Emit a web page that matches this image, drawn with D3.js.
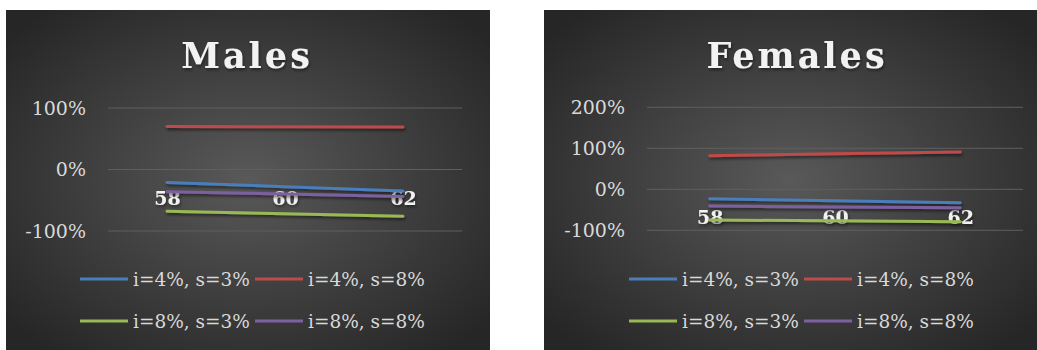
<!DOCTYPE html>
<html>
<head>
<meta charset="utf-8">
<script src="https://cdn.jsdelivr.net/npm/d3@7"></script>
<style>
  body { margin: 0; background: #ffffff; }
  svg { display: block; }
</style>
</head>
<body>
<div id="chart"></div>
<script>
// categories (age) and legend names
var ages = ["58", "60", "62"]
var seriesNames = ["i=4%, s=3%", "i=4%, s=8%", "i=8%, s=3%", "i=8%, s=8%"]
var seriesColors = ["#4a7ebb", "#be4b48", "#98b954", "#7d60a0"]

// Males, values in %
var maleI4S3 = [-21, -28, -35]
var maleI4S8 = [70, 69.5, 69]
var maleI8S3 = [-68, -72, -76]
var maleI8S8 = [-36, -40, -44]
var maleTicks = [-100, 0, 100]

// Females, values in %
var femaleI4S3 = [-23, -28, -33]
var femaleI4S8 = [82, 87, 91]
var femaleI8S3 = [-75, -77, -79]
var femaleI8S8 = [-41, -43, -45]
var femaleTicks = [-100, 0, 100, 200]

var W = 1037, H = 350
var svg = d3.select("#chart").append("svg")
  .attr("width", W).attr("height", H)

var defs = svg.append("defs")
var grad = defs.append("radialGradient")
  .attr("id", "bg").attr("cx", "50%").attr("cy", "50%").attr("r", "65%")
grad.append("stop").attr("offset", "0%").attr("stop-color", "#595959")
grad.append("stop").attr("offset", "100%").attr("stop-color", "#262626")

// shadows in user space (big region) so flat lines and shifted ticks are not clipped
function addShadow(id, opacity){
  var f = defs.append("filter").attr("id", id)
    .attr("filterUnits", "userSpaceOnUse")
    .attr("x", -W).attr("y", -H).attr("width", 3 * W).attr("height", 3 * H)
  f.append("feDropShadow").attr("dx", 1).attr("dy", 2).attr("stdDeviation", 1.5)
    .attr("flood-color", "#000").attr("flood-opacity", opacity)
}
addShadow("shadow", 0.55)
addShadow("tshadow", 0.45)

function drawPanel(opts){
  var g = svg.append("g").attr("transform", "translate(" + opts.left + "," + opts.top + ")")

  g.append("rect")
    .attr("width", opts.width).attr("height", opts.height)
    .attr("fill", "url(#bg)")

  // title
  g.append("text")
    .attr("x", opts.titleX).attr("y", 58)
    .attr("text-anchor", "middle")
    .attr("font-family", "DejaVu Serif")
    .attr("font-weight", "bold")
    .attr("font-size", 35)
    .attr("letter-spacing", 3)
    .attr("fill", "#f2f2f2")
    .attr("filter", "url(#tshadow)")
    .text(opts.title)

  var x = d3.scalePoint()
    .domain(ages)
    .range([opts.plotL, opts.plotR])
    .padding(0.5)
  var y = d3.scaleLinear()
    .domain(d3.extent(opts.ticks))
    .range([opts.plotB, opts.plotT])

  // gridlines
  g.append("g")
    .selectAll("line")
    .data(opts.ticks)
    .join("line")
      .attr("x1", opts.plotL).attr("x2", opts.plotR)
      .attr("y1", d => y(d)).attr("y2", d => y(d))
      .attr("stroke", "#5f5f5f").attr("stroke-width", 1)

  // y axis labels
  var ya = g.append("g")
    .attr("transform", "translate(" + opts.plotL + ",0)")
    .call(d3.axisLeft(y).tickValues(opts.ticks).tickSize(0).tickPadding(22).tickFormat(d => d + "%"))
  ya.select(".domain").remove()
  ya.selectAll("text")
    .attr("font-family", "DejaVu Serif").attr("font-size", 19)
    .attr("fill", "#d9d9d9")

  var line = d3.line()
    .x((d, i) => x(ages[i]))
    .y(d => y(d))
  var lines = [opts.s1, opts.s2, opts.s3, opts.s4]

  // category axis crosses at 0, labels drawn below
  var xa = g.append("g")
    .attr("transform", "translate(0," + y(0) + ")")
    .call(d3.axisBottom(x).tickSize(0))
  xa.select(".domain").remove()
  xa.selectAll("text")
    .attr("y", 35).attr("dy", null)
    .attr("font-family", "DejaVu Serif").attr("font-weight", "bold").attr("font-size", 19)
    .attr("fill", "#f2f2f2")
    .attr("filter", "url(#tshadow)")

  // lines go over the labels like in the reference
  var drawOrder = [1, 0, 3, 2]
  drawOrder.forEach(function(k){
    g.append("path")
      .datum(lines[k])
      .attr("fill", "none")
      .attr("stroke", seriesColors[k])
      .attr("stroke-width", 3)
      .attr("stroke-linecap", "round")
      .attr("filter", "url(#shadow)")
      .attr("d", line)
  })

  // legend, 2 x 2
  var legend = g.append("g")
  seriesNames.forEach(function(name, k){
    var col = k % 2, row = Math.floor(k / 2)
    var lx = opts.legendX + col * 175
    var ly = 269 + row * 42
    legend.append("line")
      .attr("x1", lx).attr("x2", lx + 48)
      .attr("y1", ly).attr("y2", ly)
      .attr("stroke", seriesColors[k]).attr("stroke-width", 3)
    legend.append("text")
      .attr("x", lx + 53).attr("y", ly + 7)
      .attr("font-family", "DejaVu Serif").attr("font-size", 18.5)
      .attr("fill", "#d9d9d9")
      .text(name)
  })
}

drawPanel({
  left: 6, top: 10, width: 484, height: 340,
  title: "Males", titleX: 241,
  plotL: 102, plotR: 456, plotT: 98, plotB: 221,
  ticks: maleTicks,
  s1: maleI4S3, s2: maleI4S8, s3: maleI8S3, s4: maleI8S8,
  legendX: 74
})

drawPanel({
  left: 544, top: 10, width: 493, height: 340,
  title: "Females", titleX: 253,
  plotL: 103, plotR: 479, plotT: 97.3, plotB: 220.3,
  ticks: femaleTicks,
  s1: femaleI4S3, s2: femaleI4S8, s3: femaleI8S3, s4: femaleI8S8,
  legendX: 85
})
</script>
</body>
</html>
